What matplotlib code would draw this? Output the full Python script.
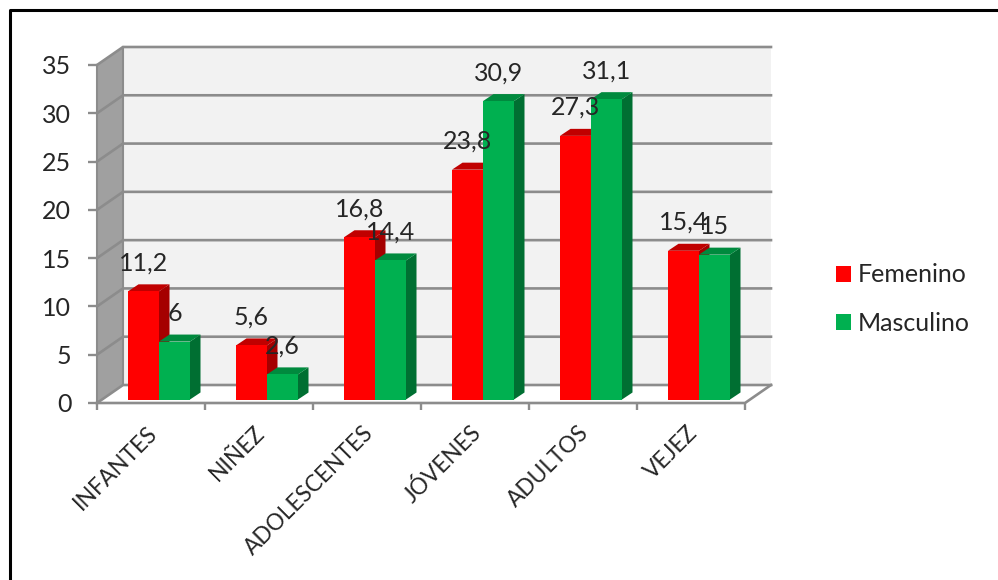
import matplotlib
matplotlib.use("Agg")
import matplotlib.pyplot as plt
from matplotlib.patches import Polygon, Rectangle
from matplotlib.lines import Line2D

plt.rcParams['font.family'] = ['Lato', 'DejaVu Sans']

categories = ["INFANTES", "NIÑEZ", "ADOLESCENTES", "JÓVENES", "ADULTOS", "VEJEZ"]
femenino = [11.2, 5.6, 16.8, 23.8, 27.3, 15.4]
masculino = [6, 2.6, 14.4, 30.9, 31.1, 15]
femenino_labels = ["11,2", "5,6", "16,8", "23,8", "27,3", "15,4"]
masculino_labels = ["6", "2,6", "14,4", "30,9", "31,1", "15"]
y_ticks = [0, 5, 10, 15, 20, 25, 30, 35]

W, H = 998, 580
fig = plt.figure(figsize=(W / 100, H / 100), dpi=100, facecolor="white")

# Front plane of the pseudo-3D box, in figure pixels
left, right, top, bottom = 97, 745, 65, 403
ax = fig.add_axes([left / W, 1 - bottom / H, (right - left) / W, (bottom - top) / H])
ax.set_xlim(-0.5, 5.5)
ax.set_ylim(0, 35)
ax.patch.set_alpha(0)
for s in ax.spines.values():
    s.set_visible(False)

ux = (right - left) / 6      # pixels per category
uy = (bottom - top) / 35     # pixels per value unit


def px(dx):
    return dx / ux


def py(dy):
    return dy / uy


GRID = "#8c8c8c"
TEXT = "#262626"
# Box depth
bx, by = px(26), py(18)
x0, x1 = -0.5, 5.5

# Back wall, side wall and floor
ax.add_patch(Polygon([(x0 + bx, by), (x1 + bx, by), (x1 + bx, 35 + by), (x0 + bx, 35 + by)],
                     fc="#f2f2f2", ec="none", clip_on=False, zorder=1))
ax.add_patch(Polygon([(x0, 0), (x0 + bx, by), (x0 + bx, 35 + by), (x0, 35)],
                     fc="#a0a0a0", ec="none", clip_on=False, zorder=1))
ax.add_patch(Polygon([(x0, 0), (x1, 0), (x1 + bx, by), (x0 + bx, by)],
                     fc="white", ec="none", clip_on=False, zorder=1))

# Grid lines run along the side wall and across the back wall
for t in y_ticks:
    ax.plot([x0, x0 + bx, x1 + bx], [t, t + by, t + by], color=GRID, lw=1.9,
            clip_on=False, zorder=2, solid_joinstyle="miter")
ax.plot([x0 + bx, x0 + bx], [by, 35 + by], color=GRID, lw=1.5, clip_on=False, zorder=2)
ax.plot([x0, x0], [0, 35], color=GRID, lw=1.5, clip_on=False, zorder=2)
ax.plot([x0, x1, x1 + bx], [0, 0, by], color=GRID, lw=1.9, clip_on=False, zorder=2)

# Ticks and tick labels
ax.set_yticks(y_ticks)
ax.set_yticklabels([str(t) for t in y_ticks], fontsize=18, color=TEXT)
ax.tick_params(axis="y", length=6.5, width=1.7, color=GRID, pad=12)
ax.set_xticks([i - 0.5 for i in range(7)])
ax.tick_params(axis="x", length=5, width=1.7, color=GRID, labelbottom=False)

# Category labels end at the tick centre, rotated 45 degrees
for i, name in enumerate(categories):
    ax.annotate(name, xy=(i, 0), xycoords="data", xytext=(2, -19), textcoords="offset points",
                rotation=45, rotation_mode="anchor", ha="right", va="center",
                fontsize=16.3, color=TEXT, annotation_clip=False)

# Bars: front face through ax.bar, top and side faces as offset polygons
dx, dy = px(10.5), py(7)
shift_x = px(8)
bar_w = px(31)
base = py(3.5)


def draw_bar(x, value, face, top_face, side_face, z):
    y0, y1 = base, base + value
    xa, xb = x, x + bar_w
    ax.add_patch(Polygon([(xb, y0), (xb + dx, y0 + dy), (xb + dx, y1 + dy), (xb, y1)],
                         fc=side_face, ec="none", clip_on=False, zorder=z))
    ax.add_patch(Polygon([(xa, y1), (xb, y1), (xb + dx, y1 + dy), (xa + dx, y1 + dy)],
                         fc=top_face, ec="none", clip_on=False, zorder=z))
    ax.bar(xa, value, width=bar_w, bottom=y0, align="edge", color=face, clip_on=False, zorder=z)


RED = ("#ff0000", "#c00000", "#a50000")
GREEN = ("#00b050", "#008a3e", "#006f32")

for i in range(len(categories)):
    xr = i + shift_x - bar_w
    xg = i + shift_x
    draw_bar(xr, femenino[i], *RED, z=3)
    draw_bar(xg, masculino[i], *GREEN, z=4)

# Data labels sit a fixed distance above each bar's front edge
for i in range(len(categories)):
    for x, v, s in ((i + shift_x - bar_w / 2, femenino[i], femenino_labels[i]),
                    (i + shift_x + bar_w / 2, masculino[i], masculino_labels[i])):
        ax.annotate(s, xy=(x, base + v), xytext=(0, 20.5), textcoords="offset points",
                    ha="center", va="center", fontsize=18, color=TEXT,
                    zorder=6, annotation_clip=False)

handles = [Rectangle((0, 0), 1, 1, fc=RED[0]), Rectangle((0, 0), 1, 1, fc=GREEN[0])]
fig.legend(handles, ["Femenino", "Masculino"], loc="upper left",
           bbox_to_anchor=(828.5 / W, 1 - 256 / H), frameon=False, fontsize=18,
           handlelength=0.6, handleheight=0.6, handletextpad=0.26,
           labelspacing=1.02, labelcolor=TEXT, borderpad=0.3, borderaxespad=0)

# Black outline around the chart area
fig.add_artist(Line2D([9.5 / W, 9.5 / W, 1], [0, 1 - 9.5 / H, 1 - 9.5 / H],
                      color="black", lw=2.2, transform=fig.transFigure))

fig.savefig("out.png", dpi=100)
